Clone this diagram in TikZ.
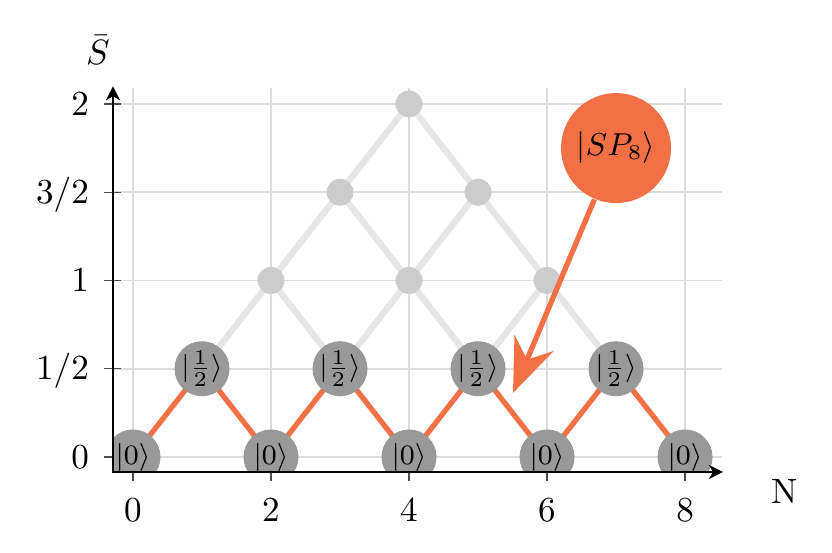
\documentclass[tikz,border=0pt]{standalone}
\usetikzlibrary{arrows.meta,backgrounds}
\definecolor{sporange}{RGB}{242,112,68}
\definecolor{gridgray}{RGB}{220,220,220}
\definecolor{latgray}{RGB}{230,230,230}
\definecolor{dotgray}{RGB}{204,204,204}
\definecolor{stategray}{RGB}{153,153,153}
\begin{document}
\begin{tikzpicture}[x=0.69cm,y=1.765cm,
  gridline/.style={draw=gridgray,line width=0.5pt},
  tickline/.style={draw=black!70,line width=0.4pt},
  latline/.style={draw=latgray,line width=1.8pt},
  spline/.style={draw=sporange,line width=1.5pt},
  axisline/.style={draw=black,line width=0.6pt},
  dot/.style={circle,fill=dotgray,inner sep=0pt,minimum size=0.27cm},
  state/.style={circle,fill=stategray,inner sep=0pt,minimum size=0.55cm,font=\footnotesize},
  bigstate/.style={circle,fill=sporange,inner sep=0pt,minimum size=1.1cm,font=\small},
  ticklab/.style={inner sep=0pt}]
\useasboundingbox (-1.9275,-0.5439) rectangle (10.130,2.589);

% nodes, clipped to the axis area
\begin{scope}
  \clip (-0.29,-0.085) rectangle (8.6,2.2);
  \node[dot] (a21) at (2,1) {};
  \node[dot] (a41) at (4,1) {};
  \node[dot] (a61) at (6,1) {};
  \node[dot] (b3) at (3,1.5) {};
  \node[dot] (b5) at (5,1.5) {};
  \node[dot] (c4) at (4,2) {};
  \node[state] (z0) at (0,0) {\makebox[0pt]{$|0\rangle$}};
  \node[state] (z2) at (2,0) {\makebox[0pt]{$|0\rangle$}};
  \node[state] (z4) at (4,0) {\makebox[0pt]{$|0\rangle$}};
  \node[state] (z6) at (6,0) {\makebox[0pt]{$|0\rangle$}};
  \node[state] (z8) at (8,0) {\makebox[0pt]{$|0\rangle$}};
  \node[state] (h1) at (1,0.5) {\makebox[0pt]{$|\frac{1}{2}\rangle$}};
  \node[state] (h3) at (3,0.5) {\makebox[0pt]{$|\frac{1}{2}\rangle$}};
  \node[state] (h5) at (5,0.5) {\makebox[0pt]{$|\frac{1}{2}\rangle$}};
  \node[state] (h7) at (7,0.5) {\makebox[0pt]{$|\frac{1}{2}\rangle$}};
  \node[bigstate] (sp) at (7,1.75) {$|SP_8\rangle$};
\end{scope}

\begin{pgfonlayer}{background}
  % grid
  \foreach \x in {0,2,4,6,8}
    \draw[gridline] (\x,-0.085) -- (\x,2.09);
  \foreach \y in {0,0.5,1,1.5,2}
    \draw[gridline] (-0.29,\y) -- (8.536,\y);
  % ticks
  \foreach \y in {0,0.5,1,1.5,2}
    \draw[tickline] (-0.42,\y) -- (-0.174,\y);
  \foreach \x in {0,2,4,6,8}
    \draw[tickline] (\x,-0.136) -- (\x,-0.034);
  % lattice
  \draw[latline,line join=round] (h1.center) -- (a21.center) -- (b3.center) -- (c4.center)
     -- (b5.center) -- (a61.center) -- (h7.center);
  \draw[latline,line join=round] (a21.center) -- (h3.center) -- (a41.center) -- (h5.center) -- (a61.center);
  \draw[latline,line join=round] (b3.center) -- (a41.center) -- (b5.center);
  % path of the state
  \draw[spline,line join=round] (z0.center) -- (h1.center) -- (z2.center) -- (h3.center) -- (z4.center)
     -- (h5.center) -- (z6.center) -- (h7.center) -- (z8.center);
\end{pgfonlayer}

% axes
\draw[axisline,{Stealth[length=4pt,width=4pt,inset=1.2pt]}-{Stealth[length=4pt,width=4pt,inset=1.2pt]}]
  (-0.29,2.10) |- (8.55,-0.085);

% tick labels
\node[ticklab,anchor=base east,yshift=-3.2pt] (yl0) at (-0.63,0) {$0$};
\node[ticklab,anchor=base east,yshift=-3.2pt] (yl1) at (-0.63,0.5) {$1/2$};
\node[ticklab,anchor=base east,yshift=-3.2pt] (yl2) at (-0.63,1) {$1$};
\node[ticklab,anchor=base east,yshift=-3.2pt] (yl3) at (-0.63,1.5) {$3/2$};
\node[ticklab,anchor=base east,yshift=-3.2pt] (yl4) at (-0.63,2) {$2$};
\foreach \x in {0,2,4,6,8}
  \node[ticklab,anchor=base] (xl\x) at (\x,-0.3643) {$\x$};

% axis labels
\node (ylabel) at (-0.507,2.306) {$\bar S$};
\node (xlabel) at (9.449,-0.198) {N};

% pointer
\coordinate (tip) at (5.507,0.363);
\draw[spline,-{Stealth[length=0.54cm,width=0.42cm,inset=0.18cm]}] (sp) -- (tip);
\end{tikzpicture}
\end{document}
